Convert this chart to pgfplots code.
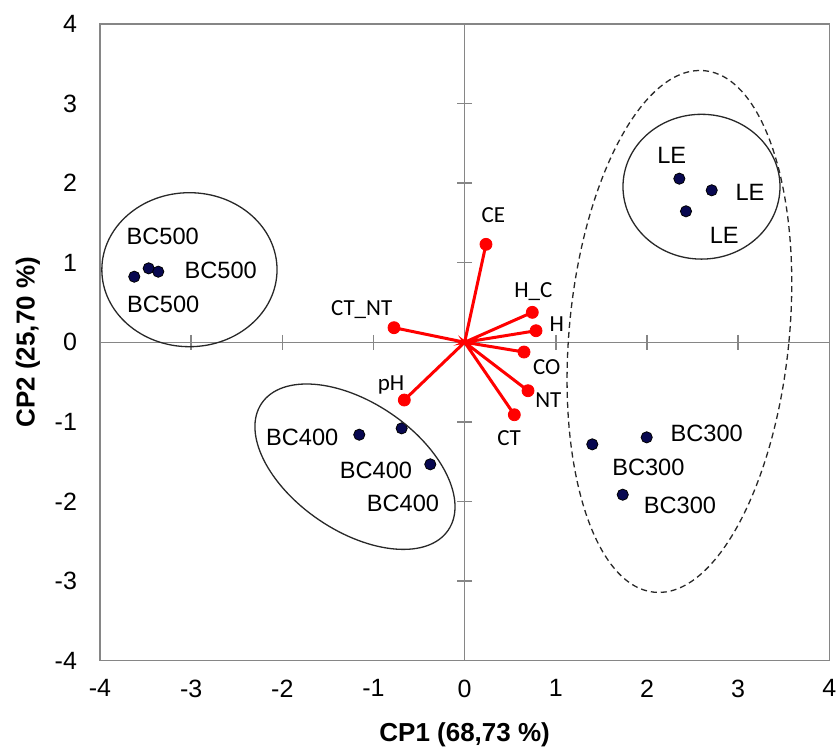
\documentclass[border=0pt]{standalone}
\usepackage{fontspec}
\setmainfont{Liberation Sans}
\newfontfamily\calib{Carlito}
\usepackage{pgfplots}
\pgfplotsset{compat=1.18}
\definecolor{navy}{RGB}{8,8,80}
\definecolor{axgray}{RGB}{134,134,134}
\definecolor{ellgray}{RGB}{40,40,40}

\begin{document}
\begin{tikzpicture}
\begin{axis}[
  at={(0,0)}, anchor=south west,
  scale only axis, width=364.65pt, height=318.25pt,
  xmin=-4, xmax=4, ymin=-4, ymax=4,
  xtick={-4,-3,...,4}, ytick={-4,-3,...,4},
  xticklabels={-4,-3,-2,-1,0,1,2,3,4},
  yticklabels={-4,-3,-2,-1,0,1,2,3,4},
  major tick length=0pt,
  axis line style={axgray, line width=0.75pt},
  tick label style={font=\fontsize{12.5}{14}\selectfont},
  xticklabel style={yshift=-6pt},
  yticklabel style={xshift=-8pt},
  xlabel={CP1 (68,73 \%)}, ylabel={CP2 (25,70 \%)},
  label style={font=\bfseries\fontsize{13}{15}\selectfont},
  xlabel style={at={(axis description cs:0.5,-0.117)}, anchor=center},
  ylabel style={at={(axis description cs:-0.0987,0.5)}, anchor=center},
  clip=false,
]
% inner axes
\draw[axgray, line width=0.75pt] (axis cs:-4,0) -- (axis cs:4,0);
\draw[axgray, line width=0.75pt] (axis cs:0,-4) -- (axis cs:0,4);
\addplot[only marks, mark=|, mark size=3.75pt, mark options={axgray, line width=0.75pt}]
  coordinates {(-3,0)(-2,0)(-1,0)(1,0)(2,0)(3,0)};
\addplot[only marks, mark=-, mark size=3.75pt, mark options={axgray, line width=0.75pt}]
  coordinates {(0,-3)(0,-2)(0,-1)(0,1)(0,2)(0,3)};

% ellipse centres
\coordinate (e500) at (axis cs:-3.019,0.912);
\coordinate (eLE) at (axis cs:2.598,1.955);
\coordinate (e400) at (axis cs:-1.203,-1.564);
\coordinate (edash) at (axis cs:2.356,0.136);

% loading vectors
\addplot[red, line width=1.5pt, no marks] coordinates {
  (0,0)(0.234,1.231)(0,0)(0.742,0.376)(0,0)(0.783,0.145)(0,0)(0.651,-0.123)
  (0,0)(0.695,-0.609)(0,0)(0.545,-0.911)(0,0)(-0.775,0.183)(0,0)(-0.662,-0.726)(0,0)};
\addplot[only marks, mark=*, mark size=3pt, mark options={fill=red, draw=red}] coordinates {
  (0.234,1.231)(0.742,0.376)(0.783,0.145)(0.651,-0.123)
  (0.695,-0.609)(0.545,-0.911)(-0.775,0.183)(-0.662,-0.726)};

% scores
\addplot[only marks, mark=*, mark size=2.8pt, mark options={fill=navy, draw=black, line width=0.4pt}] coordinates {
  (-3.624,0.824)(-3.466,0.929)(-3.361,0.887)
  (2.355,2.056)(2.710,1.910)(2.428,1.646)
  (-1.156,-1.162)(-0.691,-1.082)(-0.377,-1.534)
  (1.400,-1.283)(1.997,-1.195)(1.734,-1.916)};

% score labels
\begin{scope}[every node/.style={font=\fontsize{11.8}{13}\selectfont, inner sep=0pt}]
\node at (axis cs:-3.312,1.327) {BC500};
\node at (axis cs:-2.676,0.908) {BC500};
\node at (axis cs:-3.306,0.477) {BC500};
\node at (axis cs:2.271,2.354) {LE};
\node at (axis cs:3.130,1.880) {LE};
\node at (axis cs:2.848,1.348) {LE};
\node at (axis cs:-1.781,-1.195) {BC400};
\node at (axis cs:-0.972,-1.609) {BC400};
\node at (axis cs:-0.676,-2.024) {BC400};
\node at (axis cs:2.655,-1.144) {BC300};
\node at (axis cs:2.015,-1.577) {BC300};
\node at (axis cs:2.362,-2.046) {BC300};
\end{scope}
% variable labels
\begin{scope}[every node/.style={font=\calib\fontsize{11.5}{13}\selectfont, inner sep=0pt}]
\node at (axis cs:0.314,1.599) {CE};
\node at (axis cs:0.753,0.635) {H\_C};
\node at (axis cs:1.010,0.229) {H};
\node at (axis cs:0.900,-0.307) {CO};
\node at (axis cs:0.918,-0.726) {NT};
\node at (axis cs:0.487,-1.204) {CT};
\node at (axis cs:-1.129,0.405) {CT\_NT};
\node at (axis cs:-0.808,-0.541) {pH};
\end{scope}
\end{axis}
% group ellipses
\draw[ellgray, line width=0.65pt] (e500) ellipse [x radius=43.8pt, y radius=38.5pt];
\draw[ellgray, line width=0.65pt] (eLE) ellipse [x radius=39.25pt, y radius=36.2pt];
\draw[ellgray, line width=0.65pt, rotate around={-34.2:(e400)}] (e400) ellipse [x radius=56.4pt, y radius=32.1pt];
\draw[ellgray, line width=0.65pt, dash pattern=on 3pt off 2pt, rotate around={-5.5:(edash)}] (edash) ellipse [x radius=55pt, y radius=131pt];
\pgfresetboundingbox
\path (-50pt,-45.75pt) rectangle (369.5pt,330.25pt);
\end{tikzpicture}
\end{document}
